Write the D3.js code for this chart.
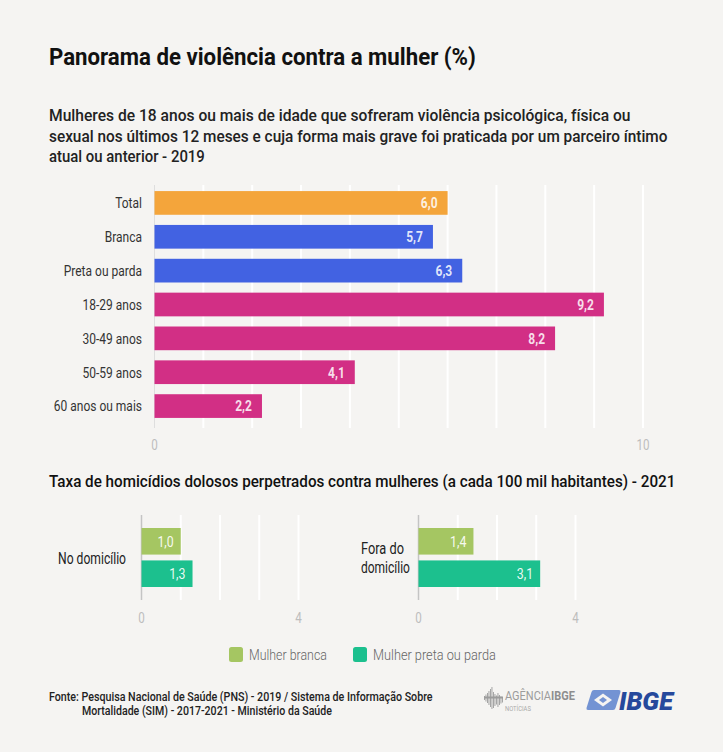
<!DOCTYPE html>
<html>
<head>
<meta charset="utf-8">
<script src="https://cdn.jsdelivr.net/npm/d3@7"></script>
<style>
  html, body { margin: 0; padding: 0; background: #f5f4f2; }
  svg { display: block; }
  text { font-family: Roboto, 'Liberation Sans', sans-serif; }
</style>
</head>
<body>
<script>
// ---------- DATA ----------
const title = "Panorama de violência contra a mulher (%)";
const subtitleLines = [
  "Mulheres de 18 anos ou mais de idade que sofreram violência psicológica, física ou",
  "sexual nos últimos 12 meses e cuja forma mais grave foi praticada por um parceiro íntimo",
  "atual ou anterior - 2019"
];
const topCategories = ["Total", "Branca", "Preta ou parda", "18-29 anos", "30-49 anos", "50-59 anos", "60 anos ou mais"];
const topValues = [6.0, 5.7, 6.3, 9.2, 8.2, 4.1, 2.2];
const topGroups = ["total", "cor", "cor", "idade", "idade", "idade", "idade"];
const topTickLabels = [0, 10];

const bottomTitle = "Taxa de homicídios dolosos perpetrados contra mulheres (a cada 100 mil habitantes) - 2021";
const bottomPanels = ["No domicílio", "Fora do domicílio"];
const bottomSeries = ["Mulher branca", "Mulher preta ou parda"];
const valuesBranca = [1.0, 1.4];
const valuesPreta = [1.3, 3.1];
const bottomTickLabels = [0, 4];

const sourceLines = [
  "Fonte: Pesquisa Nacional de Saúde (PNS) - 2019 / Sistema de Informação Sobre",
  "Mortalidade (SIM) - 2017-2021 - Ministério da Saúde"
];

// ---------- STYLE ----------
const W = 723, H = 752;
const groupColor = { total: "#f4a53b", cor: "#4262e2", idade: "#d22f85" };
const seriesColor = ["#a5c662", "#1cc08e"];
const fmt = v => d3.format(".1f")(v).replace(".", ",");
const COND = 0.8; // horizontal condensing factor (reference uses a condensed face)

const svg = d3.select("body").append("svg").attr("width", W).attr("height", H);
svg.append("rect").attr("width", W).attr("height", H).attr("fill", "#f5f4f2");

// condense text horizontally around its anchor x: to a target width or by a factor
function squeeze(sel, target) {
  sel.each(function () {
    const w = this.getComputedTextLength();
    if (!(w > 0)) return;
    const f = target != null ? target / w : COND;
    const x = +this.getAttribute("x") || 0;
    d3.select(this).attr("transform", `translate(${(x * (1 - f)).toFixed(2)},0) scale(${f.toFixed(4)},1)`);
  });
  return sel;
}

// ---------- TITLE ----------
squeeze(svg.append("text").attr("x", 49).attr("y", 65)
  .attr("font-size", 24).attr("font-weight", "bold").attr("fill", "#111").text(title), 427);

const subWidths = [582, 619, 156];
subtitleLines.forEach((s, i) => {
  squeeze(svg.append("text").attr("x", 49).attr("y", 121.5 + i * 20.3)
    .attr("font-size", 16.5).attr("font-weight", 500).attr("fill", "#222").text(s), subWidths[i]);
});

// ---------- TOP CHART ----------
const x1 = d3.scaleLinear().domain([0, 10]).range([154.5, 643]);
const y1 = d3.scaleBand().domain(topCategories).range([186, 423]).paddingInner(0.3).paddingOuter(0.15);

const gTop = svg.append("g");
gTop.selectAll("line.grid").data(d3.range(1, 11)).join("line")
  .attr("x1", d => x1(d)).attr("x2", d => x1(d))
  .attr("y1", 185).attr("y2", 428)
  .attr("stroke", "#ffffff").attr("stroke-width", 2);
gTop.append("line").attr("x1", x1(0)).attr("x2", x1(0)).attr("y1", 185).attr("y2", 428)
  .attr("stroke", "#dedede").attr("stroke-width", 1);

gTop.selectAll("rect.bar").data(topValues).join("rect")
  .attr("x", x1(0)).attr("y", (d, i) => y1(topCategories[i]))
  .attr("width", d => x1(d) - x1(0)).attr("height", y1.bandwidth())
  .attr("fill", (d, i) => groupColor[topGroups[i]]);

squeeze(gTop.selectAll("text.val").data(topValues).join("text")
  .attr("x", d => x1(d) - 10).attr("y", (d, i) => y1(topCategories[i]) + y1.bandwidth() / 2)
  .attr("dy", "0.36em").attr("text-anchor", "end")
  .attr("font-size", 15).attr("font-weight", "bold").attr("fill", "#ffffff").attr("fill-opacity", 0.85)
  .text(d => fmt(d)));

squeeze(gTop.selectAll("text.cat").data(topCategories).join("text")
  .attr("x", 142).attr("y", d => y1(d) + y1.bandwidth() / 2)
  .attr("dy", "0.36em").attr("text-anchor", "end")
  .attr("font-size", 15).attr("fill", "#333").text(d => d));

squeeze(gTop.selectAll("text.tick").data(topTickLabels).join("text")
  .attr("x", d => x1(d)).attr("y", 445).attr("dy", "0.36em").attr("text-anchor", "middle")
  .attr("font-size", 14.5).attr("fill", "#bdbdbd").text(d => d));

// ---------- BOTTOM TITLE ----------
squeeze(svg.append("text").attr("x", 49).attr("y", 487.5)
  .attr("font-size", 16.5).attr("font-weight", 500).attr("fill", "#111").text(bottomTitle), 627);

// ---------- BOTTOM CHARTS ----------
const panelX0 = [141.5, 418.5];
const panelValues = [[valuesBranca[0], valuesPreta[0]], [valuesBranca[1], valuesPreta[1]]];
const yb = d3.scaleBand().domain(bottomSeries).range([528, 587]).paddingInner(0.18).paddingOuter(0);

bottomPanels.forEach((p, pi) => {
  const xs = d3.scaleLinear().domain([0, 4]).range([panelX0[pi], panelX0[pi] + 157]);
  const g = svg.append("g");
  g.selectAll("line.grid").data(d3.range(1, 5)).join("line")
    .attr("x1", d => xs(d)).attr("x2", d => xs(d)).attr("y1", 515).attr("y2", 600)
    .attr("stroke", "#ffffff").attr("stroke-width", 2);
  g.append("line").attr("x1", xs(0)).attr("x2", xs(0)).attr("y1", 515).attr("y2", 600)
    .attr("stroke", "#c4c4c4").attr("stroke-width", 1.5);
  g.selectAll("rect").data(panelValues[pi]).join("rect")
    .attr("x", xs(0)).attr("y", (d, i) => yb(bottomSeries[i]))
    .attr("width", d => xs(d) - xs(0)).attr("height", yb.bandwidth())
    .attr("fill", (d, i) => seriesColor[i]);
  squeeze(g.selectAll("text.val").data(panelValues[pi]).join("text")
    .attr("x", d => xs(d) - 7).attr("y", (d, i) => yb(bottomSeries[i]) + yb.bandwidth() / 2)
    .attr("dy", "0.36em").attr("text-anchor", "end")
    .attr("font-size", 15.5).attr("fill", "#ffffff").attr("fill-opacity", 0.92).text(d => fmt(d)));
  squeeze(g.selectAll("text.tick").data(bottomTickLabels).join("text")
    .attr("x", d => xs(d)).attr("y", 618).attr("dy", "0.36em").attr("text-anchor", "middle")
    .attr("font-size", 14.5).attr("fill", "#bdbdbd").text(d => d));
});

// panel labels
squeeze(svg.append("text").attr("x", 126).attr("y", 558).attr("dy", "0.36em").attr("text-anchor", "end")
  .attr("font-size", 16).attr("fill", "#222").text(bottomPanels[0]), 68);
const fw = bottomPanels[1].split(" ");
squeeze(svg.append("text").attr("x", 361).attr("y", 548).attr("dy", "0.36em")
  .attr("font-size", 16).attr("fill", "#222").text(fw[0] + " " + fw[1]));
squeeze(svg.append("text").attr("x", 361).attr("y", 567).attr("dy", "0.36em")
  .attr("font-size", 16).attr("fill", "#222").text(fw[2]), 49);

// ---------- LEGEND ----------
const legX = [229, 353];
const legW = [78, 123];
bottomSeries.forEach((s, i) => {
  svg.append("rect").attr("x", legX[i]).attr("y", 647).attr("width", 14).attr("height", 15)
    .attr("rx", 2.5).attr("fill", seriesColor[i]);
  squeeze(svg.append("text").attr("x", legX[i] + 20).attr("y", 655).attr("dy", "0.36em")
    .attr("font-size", 14.5).attr("font-weight", 300).attr("fill", "#666").text(s), legW[i]);
});

// ---------- SOURCE ----------
squeeze(svg.append("text").attr("x", 49).attr("y", 701)
  .attr("font-size", 13).attr("font-weight", 500).attr("fill", "#222").text(sourceLines[0]), 384);
squeeze(svg.append("text").attr("x", 82).attr("y", 715.5)
  .attr("font-size", 13).attr("font-weight", 500).attr("fill", "#222").text(sourceLines[1]), 250);

// ---------- LOGOS ----------
// Agência IBGE Notícias
const ag = svg.append("g").attr("transform", "translate(484,688)");
const barH = [4, 7, 10, 14, 18, 22, 16, 12, 9, 14, 10, 7, 5];
barH.forEach((h, i) => {
  ag.append("rect").attr("x", i * 1.5).attr("y", 10 - h / 2 + (i > 5 ? 2 : 0)).attr("width", 0.9).attr("height", h).attr("fill", "#9c9c9c");
});
ag.append("rect").attr("x", 0).attr("y", 8.5).attr("width", 19).attr("height", 2).attr("fill", "#9c9c9c");
const agT = ag.append("text").attr("x", 21).attr("y", 12.5).attr("font-size", 12.5).attr("fill", "#9c9c9c");
agT.append("tspan").text("AGÊNCIA");
agT.append("tspan").attr("font-weight", "bold").attr("fill", "#8e8e8e").text("IBGE");
squeeze(agT, 70);
squeeze(ag.append("text").attr("x", 21).attr("y", 23).attr("font-size", 7).attr("fill", "#aaaaaa").text("NOTÍCIAS"), 26);

// IBGE
const ib = svg.append("g").attr("transform", "translate(586,690)");
ib.append("path").attr("d", "M7,0 L33,0 Q35,0 34.5,2 L29.5,18 Q29,20 27,20 L2,20 Q0,20 0.5,18 L5.5,2 Q6,0 8,0 Z").attr("fill", "#7393d3");
ib.append("path").attr("d", "M8,10 L17,3.5 L26,10 L17,16.5 Z").attr("fill", "#f5f4f2");
ib.append("path").attr("d", "M13,10 L17,7 L21,10 L17,13 Z").attr("fill", "#7393d3");
squeeze(ib.append("text").attr("x", 33).attr("y", 20).attr("font-size", 25).attr("font-weight", 900)
  .attr("font-style", "italic").attr("fill", "#26499c").text("IBGE"), 54);
</script>
</body>
</html>
